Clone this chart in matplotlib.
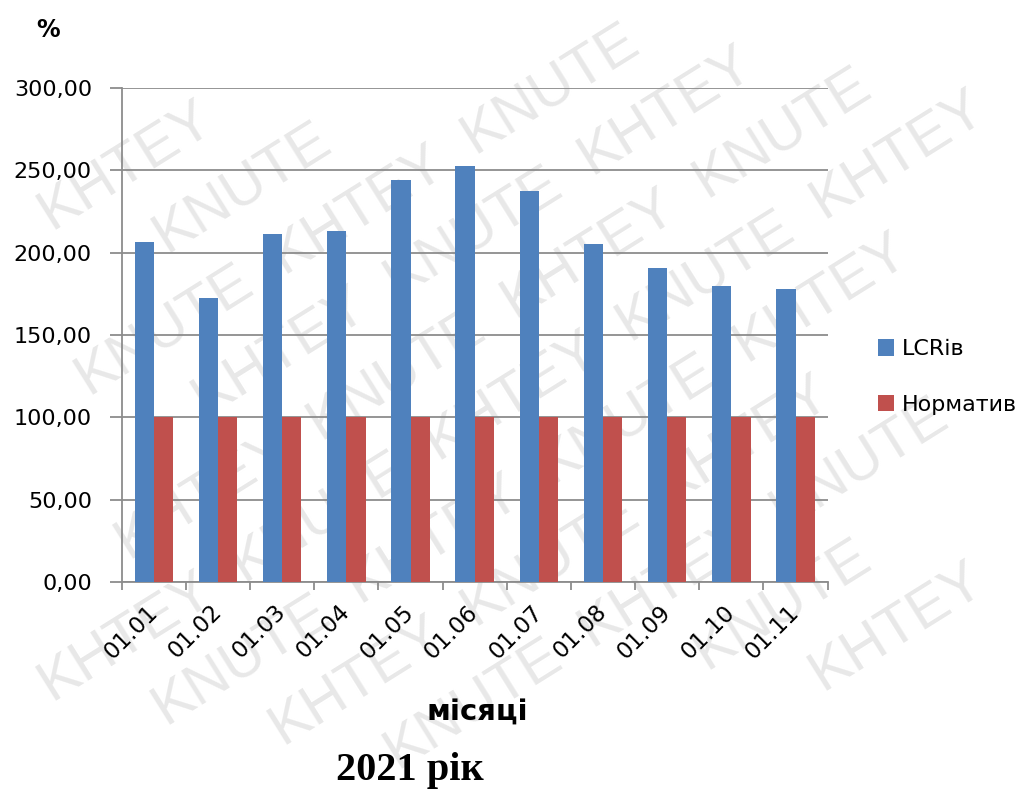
import matplotlib
matplotlib.use("Agg")
import matplotlib.pyplot as plt
import numpy as np
from matplotlib.ticker import FuncFormatter, MultipleLocator

months = ["01.01", "01.02", "01.03", "01.04", "01.05", "01.06",
          "01.07", "01.08", "01.09", "01.10", "01.11"]
lcr = [206.5, 172.5, 211.5, 213.2, 244.1, 252.5, 237.4, 205.3, 190.6, 179.8, 178.2]
norm = [100, 100, 100, 100, 100, 100, 100, 100, 100, 100, 100]
series_names = ["LCRів", "Норматив"]
watermark_words = ["KHTEY", "KNUTE"]

W, H = 1023, 792
fig = plt.figure(figsize=(W / 100, H / 100), dpi=100)
fig.patch.set_facecolor("white")

# faint diagonal watermark behind the chart, laid out word by word along slanted rows
renderer = fig.canvas.get_renderer()
rot = 32
wm_size = 42
ang = np.deg2rad(rot)
u = np.array([np.cos(ang), np.sin(ang)])
v = np.array([-np.sin(ang), np.cos(ang)])
probe = fig.text(0, 0, "KNUTE", fontsize=wm_size, family="Liberation Sans")
word_w = probe.get_window_extent(renderer).width
probe.remove()
adv = word_w + 30
line_gap = 80
centre = np.array([W / 2, H / 2])
for j in range(-14, 15):
    phase = (j * 0.62 * adv) % (2 * adv)
    for k in range(-8, 9):
        s = k * adv + phase
        p = centre + s * u + j * line_gap * v
        word = watermark_words[k % 2]
        t = fig.text(p[0] / W, p[1] / H, word, rotation=rot, fontsize=wm_size,
                     color="#e8e8e8", ha="center", va="center",
                     rotation_mode="anchor", zorder=0, family="Liberation Sans")
        bb = t.get_window_extent(renderer)
        if bb.x0 < 1 or bb.y0 < 1 or bb.x1 > W - 1 or bb.y1 > H - 1:
            t.remove()

ax = fig.add_axes([0.119, 0.265, 0.690, 0.624])
ax.set_facecolor("none")
ax.set_zorder(1)

x = np.arange(len(months))
w = 0.3
ax.bar(x - w / 2, lcr, width=w, color="#4F81BD", label=series_names[0], zorder=3)
ax.bar(x + w / 2, norm, width=w, color="#C0504D", label=series_names[1], zorder=3)

ax.set_xlim(-0.5, len(months) - 0.5)
ax.set_ylim(0, 300)
ax.yaxis.set_major_locator(MultipleLocator(50))
ax.yaxis.set_major_formatter(FuncFormatter(lambda val, pos: f"{val:.2f}".replace(".", ",")))
ax.grid(axis="y", color="#8c8c8c", linewidth=1.3, zorder=0)
ax.set_axisbelow(True)

for s in ["top", "right"]:
    ax.spines[s].set_visible(False)
for s in ["left", "bottom"]:
    ax.spines[s].set_color("#8c8c8c")
    ax.spines[s].set_linewidth(1.3)

ax.set_xticks(np.arange(-0.5, len(months), 1.0))
ax.set_xticklabels([])
ax.set_xticks(x, minor=True)
ax.set_xticklabels(months, minor=True, rotation=45, ha="right", va="center",
                   rotation_mode="anchor", fontsize=16.5)
ax.tick_params(axis="x", which="major", length=6, color="#8c8c8c", width=1.3)
ax.tick_params(axis="x", which="minor", length=0, pad=19)
ax.tick_params(axis="y", length=8.5, color="#8c8c8c", width=1.3, labelsize=16, pad=13)

fig.text(0.047, 0.962, "%", fontsize=17, fontweight="bold", ha="center", va="center")
fig.text(0.467, 0.100, "місяці", fontsize=21, fontweight="bold", ha="center", va="center")
fig.text(0.401, 0.027, "2021 рік", fontsize=29, fontweight="bold", ha="center",
         va="center", family="Liberation Serif")

ax.legend(loc="center left", bbox_to_anchor=(1.071, 0.415), frameon=False,
          fontsize=16, handlelength=0.75, handleheight=0.75, handletextpad=0.35,
          labelspacing=1.6, borderpad=0, borderaxespad=0)

fig.savefig("out.png", dpi=100, facecolor="white")
